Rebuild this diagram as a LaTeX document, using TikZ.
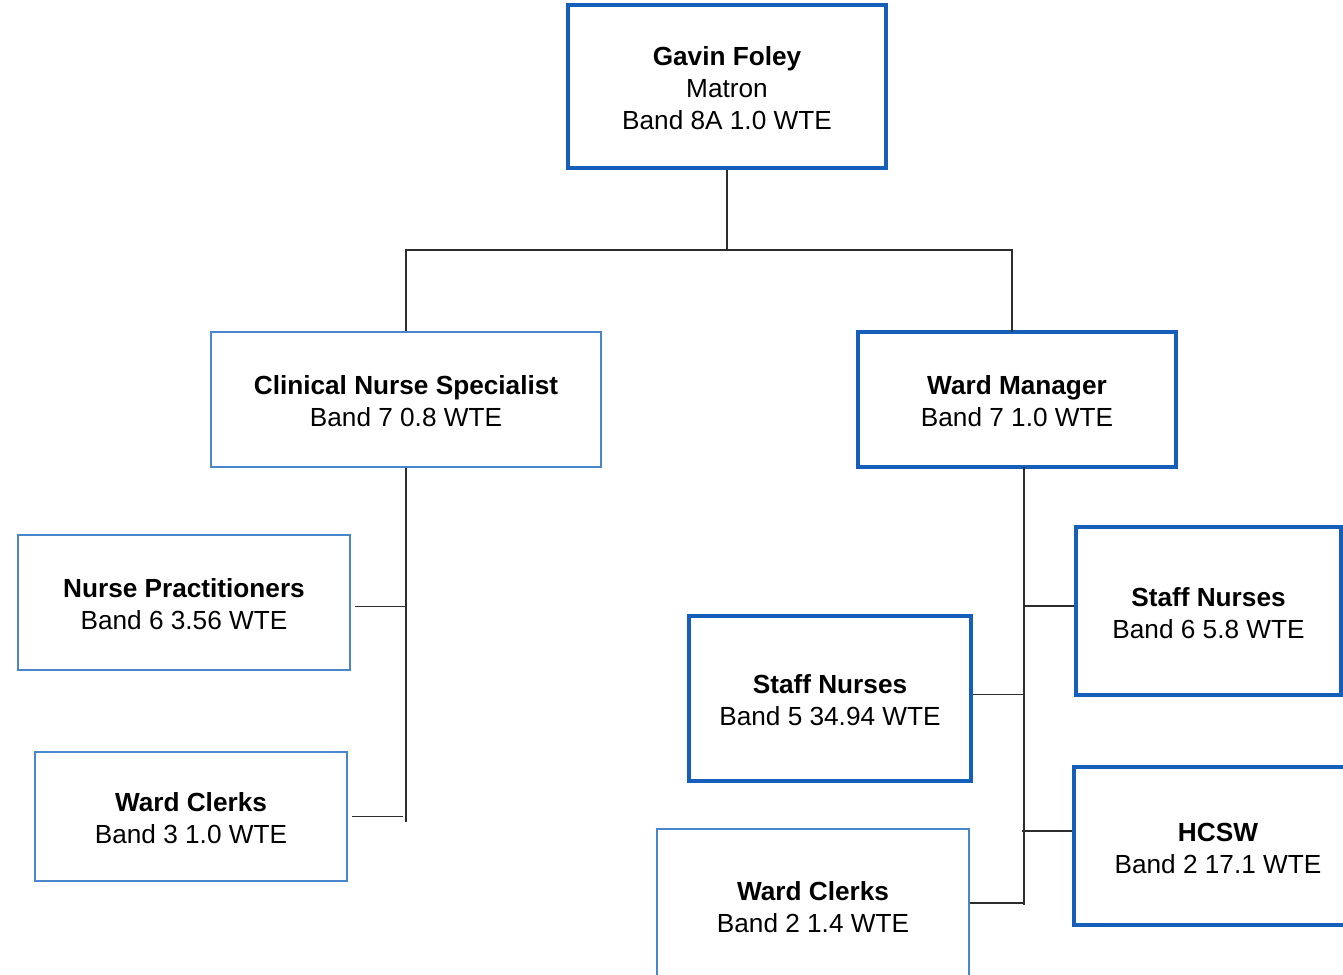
\documentclass[tikz,border=0pt]{standalone}
\usepackage{fontspec}
\setmainfont{Liberation Sans}
\usepackage{tikz}
\usetikzlibrary{positioning}
\definecolor{darkblue}{RGB}{21,94,186}
\definecolor{lightblue}{RGB}{74,134,204}
\definecolor{linegray}{RGB}{45,45,45}
\newcommand{\role}[2]{\rule{0pt}{23pt}\textbf{#1}\\#2}

\begin{document}
\begin{tikzpicture}[x=1pt,y=-1pt,
  every node/.style={align=center,font=\fontsize{26.2}{32}\selectfont,inner sep=0pt},
  heavybox/.style={draw=darkblue,line width=3.2pt},
  lightbox/.style={draw=lightblue,line width=1.4pt},
  link/.style={draw=linegray,line width=1.4pt}]
  \useasboundingbox (0,0) rectangle (1343,974);
  \clip (0,0) rectangle (1343,974);

  \node (matron) at (727,86.5)[heavybox,minimum width=318,minimum height=163]{\role{Gavin Foley}{Matron\\Band 8A 1.0 WTE}};
  \node (cns) at (406,399.5)[lightbox,minimum width=390,minimum height=135]{\role{Clinical Nurse Specialist}{Band 7 0.8 WTE}};
  \node (wm) at (1017,399.5)[heavybox,minimum width=318,minimum height=135]{\role{Ward Manager}{Band 7 1.0 WTE}};

  \node (np) at (184,602.5)[lightbox,minimum width=332,minimum height=135]{\role{Nurse Practitioners}{Band 6 3.56 WTE}};
  \node (wcl) at (191,816.5)[lightbox,minimum width=312,minimum height=129]{\role{Ward Clerks}{Band 3 1.0 WTE}};

  \node (sn6) at (1208.5,611)[heavybox,minimum width=265,minimum height=168]{\role{Staff Nurses}{Band 6 5.8 WTE}};
  \node (sn5) at (830,698.5)[heavybox,minimum width=282,minimum height=165]{\role{Staff Nurses}{Band 5 34.94 WTE}};
  \node (hcsw) at (1218,846)[heavybox,minimum width=288,minimum height=158]{\role{HCSW}{Band 2 17.1 WTE}};
  \node (wcr) at (813,905)[lightbox,minimum width=312,minimum height=152]{\role{Ward Clerks}{Band 2 1.4 WTE}};

  \coordinate (fork) at (727,250);
  \coordinate (wmtop) at (1012,332);
  \coordinate (wmtrunk) at (1024,467);
  \coordinate (cnsend) at (406,822);
  \coordinate (wmend) at (1024,905);

  \draw[link](matron)--(fork);
  \draw[link](fork)-|(cns);
  \draw[link](fork)-|(wmtop);
  \draw[link](cns)--(cnsend);
  \draw[link](np.east)++(4,4)--(406,606.5);
  \draw[link](wcl.east)++(4,0)--(403,816.5);
  \draw[link](wmtrunk)--(wmend);
  \draw[link](sn6.west)++(0,-5)--(1024,606);
  \draw[link](sn5.east)++(0,-4)--(1024,694.5);
  \draw[link](hcsw.west)++(0,-15)--(1022,831);
  \draw[link](wcr.east)++(0,-2)--(1024,903);
\end{tikzpicture}
\end{document}
